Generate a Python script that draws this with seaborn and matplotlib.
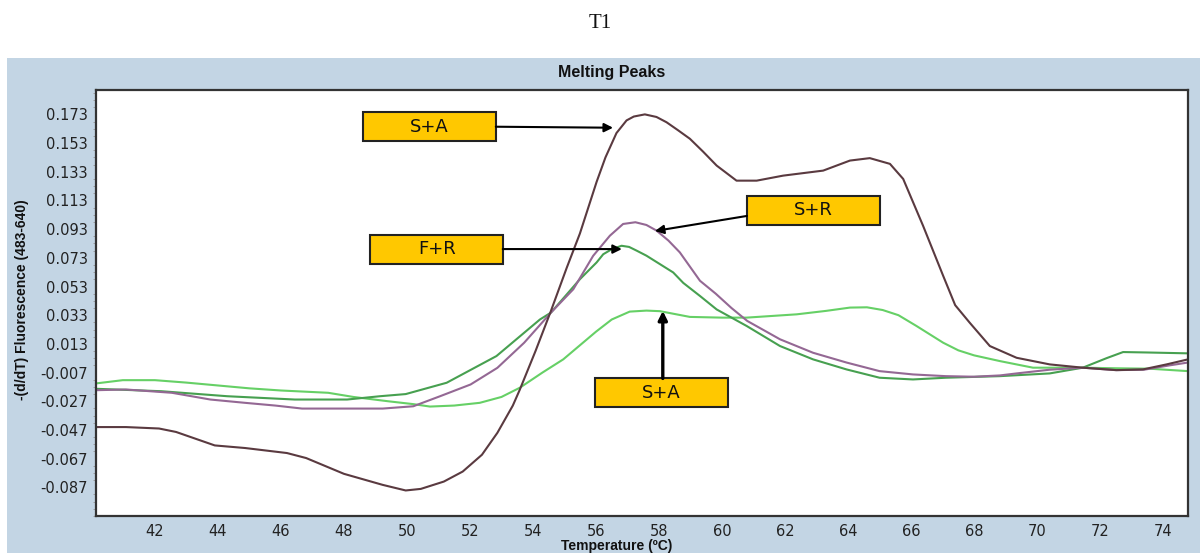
import pandas as pd
import matplotlib
matplotlib.use("Agg")
import matplotlib.pyplot as plt
from matplotlib.patches import Rectangle
from matplotlib.ticker import AutoMinorLocator
import seaborn as sns

# curve values
temp_sa_hi = [40.12, 41.08, 42.13, 42.67, 43.9, 44.86, 46.19, 46.8, 48.0, 49.23, 49.96, 50.44,
              51.17, 51.77, 52.38, 52.87, 53.36, 53.58, 54.08, 54.57, 55.07, 55.49, 56.02, 56.3,
              56.65, 56.97, 57.2, 57.55, 57.92, 58.24, 58.6, 58.98, 59.4, 59.83, 60.46, 61.1,
              61.94, 63.21, 64.06, 64.69, 65.33, 65.75, 66.38, 67.02, 67.4, 67.86, 68.5, 69.35,
              70.4, 71.45, 72.52, 73.36, 74.11, 74.79]
val_sa_hi = [-0.045, -0.045, -0.046, -0.0484, -0.0578, -0.0596, -0.0631, -0.0666, -0.0776,
             -0.0853, -0.0892, -0.0881, -0.083, -0.076, -0.0643, -0.049, -0.030, -0.019, 0.008,
             0.036, 0.066, 0.090, 0.126, 0.143, 0.160, 0.1688, 0.1715, 0.173, 0.1712, 0.1675,
             0.162, 0.156, 0.147, 0.1373, 0.1268, 0.1268, 0.1303, 0.1338, 0.1408, 0.1425,
             0.1385, 0.128, 0.0954, 0.0604, 0.040, 0.0278, 0.0115, 0.0033, -0.0013, -0.0036,
             -0.0053, -0.0048, -0.0013, 0.0022]

temp_sr = [40.12, 41.08, 42.54, 43.76, 44.86, 45.82, 46.67, 49.23, 50.2, 51.05, 52.02, 52.87,
           53.72, 54.57, 55.28, 55.91, 56.44, 56.86, 57.25, 57.6, 57.92, 58.3, 58.66, 59.3,
           59.8, 60.3, 60.8, 61.84, 62.89, 63.95, 65.0, 66.06, 67.1, 68.0, 68.82, 69.35, 70.4,
           71.45, 72.5, 73.4, 74.2, 74.79]
val_sr = [-0.0193, -0.0188, -0.0211, -0.0258, -0.0281, -0.030, -0.0321, -0.0321, -0.0305,
          -0.0235, -0.0153, -0.0037, 0.0138, 0.0348, 0.0511, 0.0744, 0.0884, 0.0966, 0.0978,
          0.0959, 0.092, 0.085, 0.0768, 0.057, 0.048, 0.038, 0.029, 0.0162, 0.0068, 0.0,
          -0.006, -0.0083, -0.0095, -0.0099, -0.009, -0.0076, -0.005, -0.0036, -0.0053,
          -0.005, -0.002, 0.0]

temp_fr = [40.12, 42.2, 44.3, 46.44, 48.1, 49.14, 49.96, 51.26, 52.84, 54.22, 54.57, 55.49,
           56.02, 56.23, 56.5, 56.81, 57.05, 57.29, 57.6, 58.0, 58.45, 58.77, 59.3, 59.83,
           60.78, 61.84, 62.89, 63.95, 65.0, 66.06, 67.1, 68.82, 70.4, 71.45, 72.2, 72.73,
           73.5, 74.79]
val_fr = [-0.0183, -0.020, -0.0235, -0.0258, -0.0258, -0.0235, -0.022, -0.0141, 0.0045, 0.030,
          0.0348, 0.0581, 0.0698, 0.0755, 0.079, 0.0814, 0.0806, 0.078, 0.0745, 0.069, 0.0628,
          0.0555, 0.0464, 0.037, 0.0255, 0.0115, 0.0022, -0.0048, -0.0106, -0.0118, -0.0106,
          -0.0095, -0.0076, -0.0036, 0.003, 0.0073, 0.0070, 0.0064]

temp_sa_lo = [40.12, 40.98, 42.0, 43.0, 44.0, 45.0, 46.0, 47.5, 48.3, 49.4, 50.2, 50.73, 51.5,
              52.31, 53.0, 53.58, 54.3, 54.96, 56.0, 56.5, 57.07, 57.6, 58.03, 58.98, 60.0,
              60.78, 62.37, 63.3, 64.06, 64.6, 65.1, 65.6, 66.17, 67.02, 67.5, 68.0, 68.82,
              69.87, 71.45, 72.5, 73.57, 74.79]
val_sa_lo = [-0.0146, -0.0123, -0.0123, -0.014, -0.016, -0.018, -0.0195, -0.0211, -0.024,
             -0.027, -0.029, -0.0307, -0.030, -0.0281, -0.024, -0.0176, -0.007, 0.0022, 0.0215,
             0.030, 0.0355, 0.0362, 0.0358, 0.0318, 0.0313, 0.0313, 0.0336, 0.036, 0.0383,
             0.0385, 0.0366, 0.033, 0.0255, 0.0138, 0.0085, 0.005, 0.001, -0.0036, -0.0036,
             -0.004, -0.0043, -0.006]

curve_names = ["S+A high", "S+R", "F+R", "S+A low"]
curve_colors = ["#5a3a40", "#946894", "#47a050", "#66d066"]

x_ticks = [42, 44, 46, 48, 50, 52, 54, 56, 58, 60, 62, 64, 66, 68, 70, 72, 74]
y_ticks = [0.173, 0.153, 0.133, 0.113, 0.093, 0.073, 0.053, 0.033, 0.013,
           -0.007, -0.027, -0.047, -0.067, -0.087]
y_tick_labels = ["0.173", "0.153", "0.133", "0.113", "0.093", "0.073", "0.053", "0.033",
                 "0.013", "-0.007", "-0.027", "-0.047", "-0.067", "-0.087"]

# annotation boxes: text, box centre, arrow start, arrow end
box_texts = ["S+A", "F+R", "S+R", "S+A"]
box_centres = [(50.71, 0.1644), (50.95, 0.0791), (62.91, 0.1060), (58.07, -0.0211)]
arrow_starts = [(52.82, 0.1644), (53.04, 0.0791), (60.79, 0.1022), (58.12, -0.0111)]
arrow_ends = [(56.54, 0.1637), (56.82, 0.0791), (57.87, 0.0917), (58.12, 0.0360)]

frames = []
for name, t, v in zip(curve_names, [temp_sa_hi, temp_sr, temp_fr, temp_sa_lo],
                      [val_sa_hi, val_sr, val_fr, val_sa_lo]):
    frames.append(pd.DataFrame({"Temperature": t, "Fluorescence": v, "curve": name}))
df = pd.concat(frames, ignore_index=True)

sns.set_theme(style="white")
plt.rcParams["font.family"] = ["DejaVu Sans"]

fig = plt.figure(figsize=(12, 5.53), dpi=100)
fig.patch.set_facecolor("white")
# light blue panel behind the chart
fig.patches.append(Rectangle((7 / 1200, 0), 1 - 7 / 1200, 1 - 58 / 553,
                             transform=fig.transFigure, facecolor="#c3d5e4",
                             edgecolor="none", zorder=-10))

ax = fig.add_axes([96 / 1200, 1 - 516 / 553, (1188 - 96) / 1200, (516 - 90) / 553])
ax.set_zorder(2)
ax.set_facecolor("white")

# draw the S+A low curve first so darker curves sit on top
order = ["S+A low", "F+R", "S+R", "S+A high"]
palette = dict(zip(curve_names, curve_colors))
for name in order:
    sns.lineplot(data=df[df["curve"] == name], x="Temperature", y="Fluorescence",
                 color=palette[name], lw=1.5, estimator=None, ax=ax, legend=False)

ax.set_xlim(40.13, 74.79)
ax.set_ylim(-0.107, 0.190)
ax.set_xticks(x_ticks)
ax.set_xticklabels([str(t) for t in x_ticks])
ax.set_yticks(y_ticks)
ax.set_yticklabels(y_tick_labels)
ax.yaxis.set_minor_locator(AutoMinorLocator(4))
ax.tick_params(axis="both", which="major", labelsize=10.5, labelcolor="#222222",
               color="#777777", length=4, width=0.8, direction="out", pad=2)
ax.tick_params(axis="y", which="minor", color="#999999", length=2, width=0.6, left=True)
for side in ["left", "bottom", "top", "right"]:
    ax.spines[side].set_color("#333333")
    ax.spines[side].set_linewidth(1.6)

ax.set_xlabel("")
ax.set_ylabel("")

for txt, (cx, cy), (sx, sy), (ex, ey) in zip(box_texts, box_centres, arrow_starts, arrow_ends):
    w = 133 / 31.51
    h = 29 / 1430
    ax.add_patch(Rectangle((cx - w / 2, cy - h / 2), w, h, facecolor="#ffc800",
                           edgecolor="#222222", lw=1.5, zorder=5))
    ax.text(cx, cy, txt, ha="center", va="center", fontsize=13, color="#111111", zorder=6)
    lw = 2.4 if sy < 0 else 1.5
    ax.annotate("", xy=(ex, ey), xytext=(sx, sy),
                arrowprops=dict(arrowstyle="-|>", color="black", lw=lw,
                                mutation_scale=13, shrinkA=0, shrinkB=0), zorder=6)

fig.text(0.5, 1 - 23 / 553, "T1", ha="center", va="center", fontsize=15,
         family=["Liberation Serif", "DejaVu Serif"], color="#111111")
fig.text(612 / 1200, 1 - 72 / 553, "Melting Peaks", ha="center", va="center",
         fontsize=11.5, fontweight="bold", family=["Liberation Sans", "DejaVu Sans"],
         color="#111111")
fig.text(22 / 1200, 1 - 300 / 553, "-(d/dT) Fluorescence (483-640)", rotation=90,
         ha="center", va="center", fontsize=10, fontweight="bold",
         family=["Liberation Sans Narrow", "Liberation Sans", "DejaVu Sans"], color="#111111")
fig.text(617 / 1200, 1 - 546 / 553, "Temperature (ºC)", ha="center", va="center",
         fontsize=10, fontweight="bold", family=["Liberation Sans", "DejaVu Sans"],
         color="#111111")

fig.savefig("out.png", dpi=100, facecolor=fig.get_facecolor())
